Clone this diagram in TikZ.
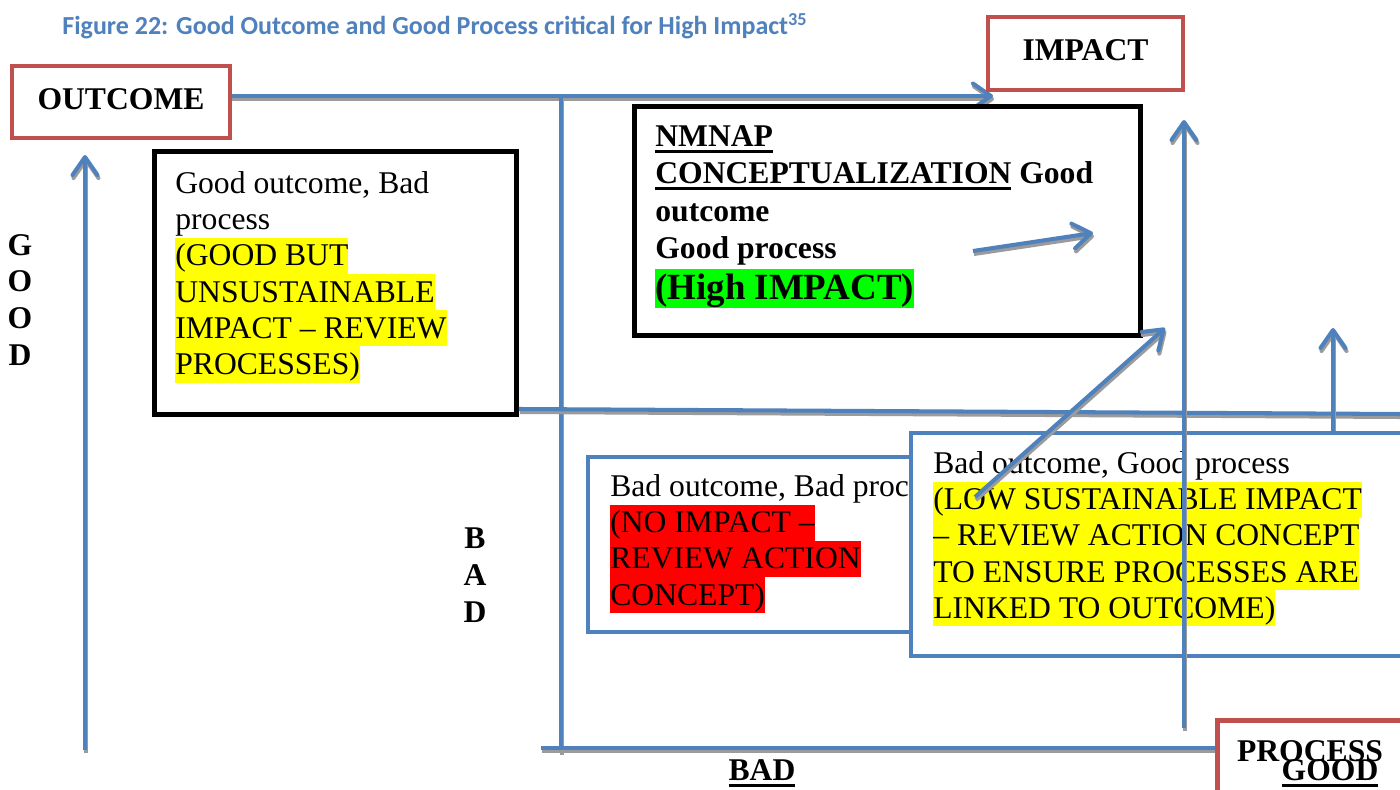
\documentclass[tikz,border=0pt]{standalone}
\usepackage{fontspec}
\setmainfont{Liberation Serif}
\newfontfamily\capfont{Carlito}
\usetikzlibrary{arrows.meta,calc}

\definecolor{axisblue}{HTML}{4F81BD}
\definecolor{boxred}{HTML}{C0504D}
\definecolor{shadowgray}{HTML}{9B9B9B}
\definecolor{hlgreen}{HTML}{00FF00}
\definecolor{hlred}{HTML}{FF0000}
\definecolor{hlyellow}{HTML}{FFFF00}

% line strut, highlighted line, thick underline
\newcommand\ls{\rule[-4.6pt]{0pt}{20.6pt}}
\newcommand\hl[2]{{\setlength{\fboxsep}{0pt}\colorbox{#1}{\ls #2}}}
\newcommand\ul[1]{\leavevmode\setbox0=\hbox{#1}\rlap{\rule[-3.6pt]{\wd0}{1.6pt}}\box0\relax}

\tikzset{
  conn/.style={draw=axisblue, line width=2.3pt,
    preaction={draw=shadowgray, line width=2.3pt,
      transform canvas={shift={(0.02cm,-0.06cm)}}}},
  arr/.style={draw=axisblue, line width=2.3pt,
    -{Straight Barb[length=0.36cm,width=0.5cm,round]},
    preaction={draw=shadowgray, line width=2.3pt,
      -{Straight Barb[length=0.36cm,width=0.5cm,round]},
      transform canvas={shift={(0.02cm,-0.06cm)}}}},
  blackbox/.style={draw=black, line width=2.8pt, fill=white, inner sep=0pt, anchor=north west},
  bluebox/.style={draw=axisblue, line width=2.5pt, fill=white, inner sep=0pt, anchor=north west},
  redbox/.style={draw=boxred, line width=2.8pt, fill=white, inner sep=0pt,
    font=\fontsize{18pt}{21pt}\selectfont\bfseries},
  txt/.style={inner sep=0pt, anchor=north west, align=left,
    font=\fontsize{18pt}{20.6pt}\selectfont},
  lbl/.style={inner sep=0pt, font=\fontsize{18pt}{21pt}\selectfont\bfseries},
}

\begin{document}
\begin{tikzpicture}[x=0.02cm, y=-0.02cm]
\clip (0,0) rectangle (1400,790);
\fill[white] (0,0) rectangle (1400,790);

% axis end points
\coordinate (topL) at (230,96);
\coordinate (topR) at (993,96);
\coordinate (midT) at (561,96);
\coordinate (midB) at (561,752);
\coordinate (botL) at (541,748);
\coordinate (botR) at (1215,748);
\coordinate (leftB) at (85,750);
\coordinate (leftT) at (85,155);
\coordinate (rightB) at (1184,728);
\coordinate (rightT) at (1184,120);
\coordinate (sepR) at (1400,414);
\coordinate (upB) at (1333,433);
\coordinate (upT) at (1333,328);
\coordinate (diagB) at (975,497);
\coordinate (diagT) at (1165,328);
\coordinate (inB) at (973,251);
\coordinate (inT) at (1093,233);

% main axes
\draw[arr] (topL) -- (topR);
\draw[conn] (midT) -- (midB);
\draw[conn] (botL) -- (botR);
\draw[arr] (leftB) -- (leftT);

% good outcome, bad process
\node[blackbox, minimum width=7.24cm, minimum height=5.26cm] (gb) at (152,149) {};
\node[txt] (gbt) at ($(gb.north west)+(23,16)$) {\ls Good outcome, Bad\\ \ls process\\
  \hl{hlyellow}{(GOOD BUT}\\ \hl{hlyellow}{UNSUSTAINABLE}\\
  \hl{hlyellow}{IMPACT -- REVIEW}\\ \hl{hlyellow}{PROCESSES)}};
\coordinate (sepL) at ($(gb.north east)+(0,260)$);
\draw[conn] (sepL) -- (sepR);

% good outcome, good process
\node[blackbox, minimum width=10.12cm, minimum height=4.58cm] (gg) at (632,104) {};
\node[txt, font=\fontsize{18pt}{21.3pt}\selectfont\bfseries] (ggt) at ($(gg.north west)+(23,14)$)
  {\ls\ul{NMNAP}\\ \ls\ul{CONCEPTUALIZATION} Good\\ \ls outcome\\ \ls Good process\\
   {\setlength{\fboxsep}{0pt}\colorbox{hlgreen}{\rule[-5.1pt]{0pt}{22.7pt}\fontsize{21pt}{24pt}\selectfont(High IMPACT)}}};
\draw[arr] (inB) -- (inT);

% bad outcome, bad process
\node[bluebox, minimum width=7.48cm, minimum height=3.5cm] (bb) at (586,455) {};
\node[txt] (bbt) at ($(bb.north west)+(24,13)$) {\ls Bad outcome, Bad process\\
  \hl{hlred}{(NO IMPACT --}\\ \hl{hlred}{REVIEW ACTION}\\ \hl{hlred}{CONCEPT)}};

\draw[arr] (upB) -- (upT);

% bad outcome, good process
\node[bluebox, minimum width=11.2cm, minimum height=4.46cm] (bg) at (909,431) {};
\node[txt] (bgt) at ($(bg.north west)+(24,14)$) {\ls Bad outcome, Good process\\
  \hl{hlyellow}{(LOW SUSTAINABLE IMPACT}\\ \hl{hlyellow}{-- REVIEW ACTION CONCEPT}\\
  \hl{hlyellow}{TO ENSURE PROCESSES ARE}\\ \hl{hlyellow}{LINKED TO OUTCOME)}};

\draw[arr] (rightB) -- (rightT);
\draw[arr] (diagB) -- (diagT);

% axis titles
\node[redbox, anchor=north west, minimum width=5cm, minimum height=2cm] (proc) at (1215,718) {};
\node[lbl] (proct) at (1310,751) {PROCESS};
\node[lbl] (goodx) at (1330,773) {\ul{GOOD}};
\node[lbl] (badx) at (762,773) {\ul{BAD}};
\node[redbox, minimum width=4.36cm, minimum height=1.44cm, text depth=3pt] (outcome) at (121,102) {OUTCOME};
\node[redbox, minimum width=3.9cm, minimum height=1.46cm, text depth=4pt] (impact) at (1085.5,53.5) {IMPACT};

\node[lbl, align=center, font=\fontsize{18pt}{21pt}\selectfont\bfseries] (goody) at (20,300) {G\\O\\O\\D};
\node[lbl, align=center, font=\fontsize{18pt}{21pt}\selectfont\bfseries] (bady) at (475,575) {B\\A\\D};

% caption
\node[inner sep=0pt, anchor=base west, text=axisblue, font=\capfont\bfseries\fontsize{14.8pt}{17pt}\selectfont] (title) at (62,35)
  {Figure 22: Good Outcome and Good Process critical for High Impact\textsuperscript{35}};
\end{tikzpicture}
\end{document}
